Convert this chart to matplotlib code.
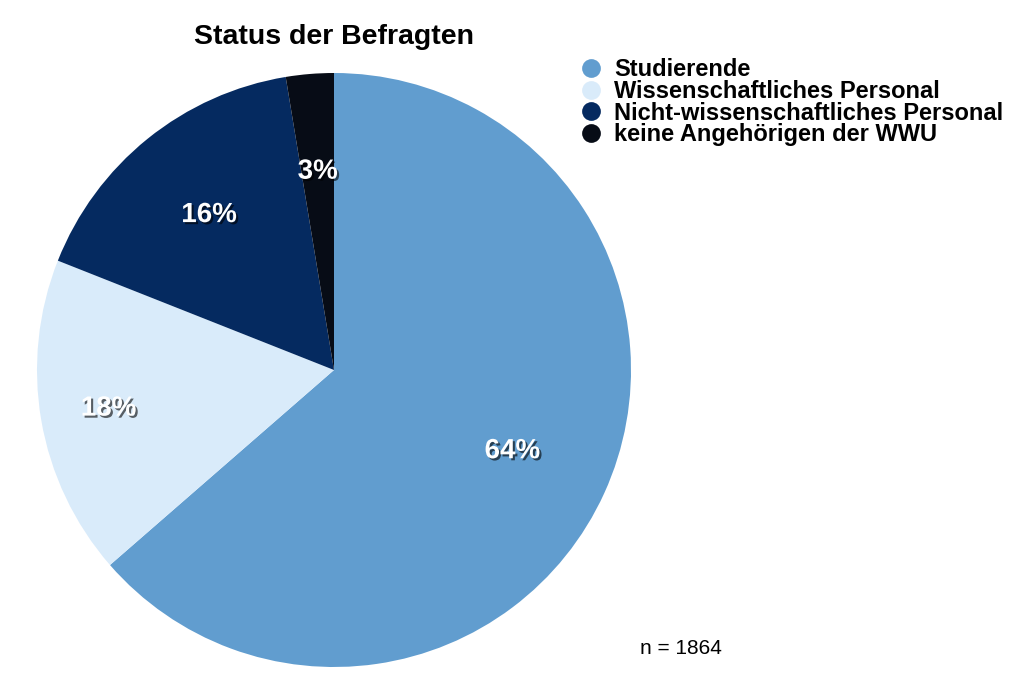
import numpy as np
import matplotlib.pyplot as plt
import matplotlib.patheffects as pe
from matplotlib.lines import Line2D

plt.rcParams['font.family'] = ['Liberation Sans', 'DejaVu Sans']

categories = ['Studierende', 'Wissenschaftliches Personal',
              'Nicht-wissenschaftliches Personal', 'keine Angehörigen der WWU']
shares = [63.6, 17.4, 16.4, 2.6]
pct_labels = ['64%', '18%', '16%', '3%']
colors = ['#619dcf', '#d9ebfa', '#052a60', '#070c16']
n_total = 1864

fig = plt.figure(figsize=(10.24, 6.83), dpi=100)
ax = fig.add_axes([37 / 1024, 16 / 683, 594 / 1024, 594 / 683])

wedges, _ = ax.pie(shares, colors=colors, startangle=90, counterclock=False,
                   radius=1.0, wedgeprops=dict(linewidth=0))
ax.set_xlim(-1, 1)
ax.set_ylim(-1, 1)
ax.set_aspect('equal')

# label radius for each slice (fraction of the radius)
label_r = [0.66, 0.77, 0.67, 0.67]
shadow = [pe.withSimplePatchShadow(offset=(1.5, -1.5), shadow_rgbFace='black', alpha=0.6)]
for w, txt, r in zip(wedges, pct_labels, label_r):
    ang = np.deg2rad((w.theta1 + w.theta2) / 2)
    ax.text(r * np.cos(ang), r * np.sin(ang), txt, ha='center', va='center',
            color='white', fontsize=20, fontweight='bold', path_effects=shadow)

fig.text(334 / 1024, 1 - 37 / 683, 'Status der Befragten', ha='center', va='center',
         fontsize=20.5, fontweight='bold')

handles = [Line2D([], [], marker='o', linestyle='none', markersize=13.5,
                  markerfacecolor=c, markeredgewidth=0) for c in colors]
leg = fig.legend(handles, categories, loc='upper left',
                 bbox_to_anchor=(579 / 1024, 1 - 58 / 683), frameon=False,
                 prop=dict(size=17, weight='bold'), labelspacing=-0.05,
                 handletextpad=0.5, handlelength=1.0, borderpad=0, borderaxespad=0)

fig.text(640 / 1024, 1 - 648 / 683, f'n = {n_total}', ha='left', va='center', fontsize=15)

fig.savefig('out.png', dpi=100)
